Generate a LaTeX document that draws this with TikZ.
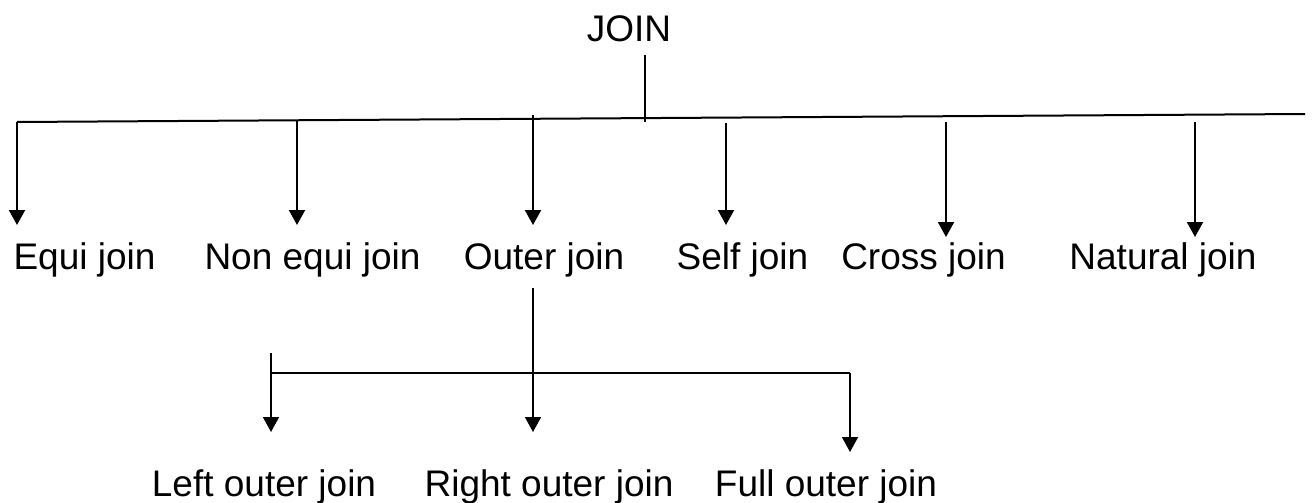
\documentclass[tikz,border=0pt]{standalone}
\usepackage{fontspec}
\setmainfont{Liberation Sans}
\usetikzlibrary{arrows.meta}
\tikzset{
  lbl/.style={anchor=base, inner sep=0pt, font=\fontsize{37}{44}\selectfont},
  ln/.style={line width=2pt, black},
  ln2/.style={line width=1.6pt, black},
  arr/.style={line width=2pt, -{Triangle[width=16pt,length=15pt]}},
  arr2/.style={line width=1.6pt, -{Triangle[width=16pt,length=15pt]}}
}
\begin{document}
\begin{tikzpicture}[x=1pt,y=-1pt]
\useasboundingbox (0,0) rectangle (1312,503);
% labels
\node[lbl] (J) at (629,42) {JOIN};
\node[lbl] (E) at (84.5,269) {Equi join};
\node[lbl] (NE) at (312.5,269) {Non equi join};
\node[lbl] (O) at (544,269) {Outer join};
\node[lbl] (S) at (742.5,269) {Self join};
\node[lbl] (C) at (923.5,269) {Cross join};
\node[lbl] (N) at (1163,269) {Natural join};
\node[lbl] (L) at (264,496) {Left outer join};
\node[lbl] (R) at (549,496) {Right outer join};
\node[lbl] (F) at (826,496) {Full outer join};
% coordinates
\coordinate (j0) at (645,55);
\coordinate (j1) at (645,122);
\coordinate (hl) at (17,122);
\coordinate (hr) at (1305,114);
\coordinate (e0) at (17,122);   \coordinate (e1) at (17,225);
\coordinate (n0) at (297,121);  \coordinate (n1) at (297,225);
\coordinate (o0) at (533,115);  \coordinate (o1) at (533,225);
\coordinate (s0) at (726,123);  \coordinate (s1) at (726,225);
\coordinate (c0) at (946,122);  \coordinate (c1) at (946,237);
\coordinate (t0) at (1195,122); \coordinate (t1) at (1195,237);
\coordinate (v0) at (533,288);  \coordinate (v1) at (533,353);
\coordinate (hl2) at (271,373); \coordinate (hr2) at (850,373);
\coordinate (l0) at (271,353);  \coordinate (l1) at (271,432);
\coordinate (r0) at (533,353);  \coordinate (r1) at (533,432);
\coordinate (f1) at (850,452);
% connectors
\draw[ln] (j0) -- (j1);
\draw[ln] (hl) -- (hr);
\draw[arr] (e0) -- (e1);
\draw[arr] (n0) -- (n1);
\draw[arr] (o0) -- (o1);
\draw[arr] (s0) -- (s1);
\draw[arr] (c0) -- (c1);
\draw[arr] (t0) -- (t1);
\draw[ln2] (v0) -- (v1);
\draw[ln2] (hl2) -- (hr2);
\draw[arr2] (l0) -- (l1);
\draw[arr2] (r0) -- (r1);
\draw[arr2] (hr2) -- (f1);
\end{tikzpicture}
\end{document}
